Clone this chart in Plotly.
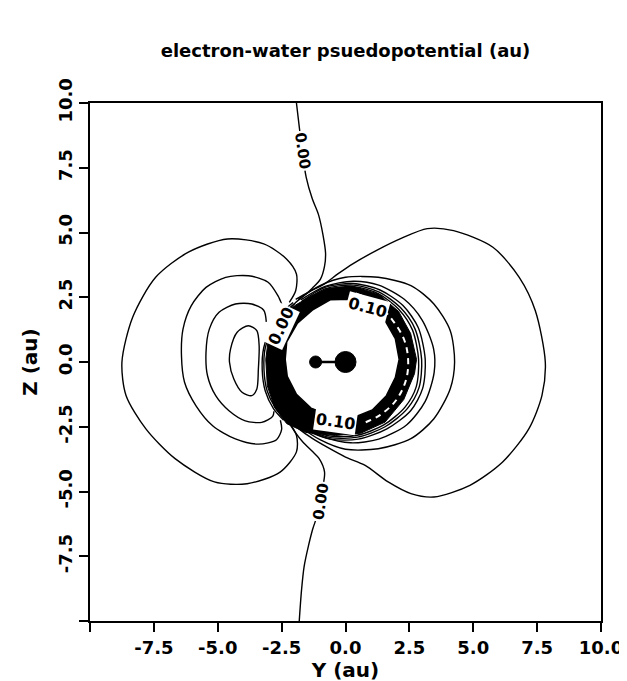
import plotly.graph_objects as go

# ---------------- data (axis units = au) ----------------
x_tick_vals = [-10.0, -7.5, -5.0, -2.5, 0.0, 2.5, 5.0, 7.5, 10.0]
x_tick_text = ["", "-7.5", "-5.0", "-2.5", "0.0", "2.5", "5.0", "7.5", "10.0"]
y_tick_vals = [-10.0, -7.5, -5.0, -2.5, 0.0, 2.5, 5.0, 7.5, 10.0]
y_tick_text = ["", "-7.5", "-5.0", "-2.5", "0.0", "2.5", "5.0", "7.5", "10.0"]

# 0.00 contour, upper branch
zero_top_y = [-1.92, -1.80, -1.70, -1.54, -1.30, -1.06, -0.88, -0.78, -0.82, -0.98, -1.30, -1.62, -1.95, -2.25, -2.55, -2.80]
zero_top_z = [10.0, 9.0, 8.15, 7.14, 6.30, 5.70, 4.90, 4.20, 3.70, 3.20, 2.85, 2.56, 2.30, 1.95, 1.40, 0.80]
# 0.00 contour, lower branch
zero_bot_y = [-2.60, -2.31, -1.98, -1.67, -1.30, -1.03, -0.82, -0.90, -1.10, -1.28, -1.45, -1.62, -1.72, -1.81]
zero_bot_z = [-1.60, -2.19, -2.70, -3.09, -3.45, -3.73, -4.25, -4.90, -5.90, -6.44, -7.10, -7.90, -8.80, -10.0]

# negative lobe on the hydrogen side (outer to inner)
lobe_a_y = [-2.20, -1.95, -1.92, -2.31, -3.20, -4.62, -6.15, -7.43, -8.33, -8.75, -8.59, -7.82, -6.67, -5.13, -3.85, -2.56, -1.92, -1.92, -2.30]
lobe_a_z = [2.30, 2.75, 3.40, 3.98, 4.56, 4.75, 4.24, 3.27, 1.73, 0.00, -1.29, -2.57, -3.73, -4.63, -4.70, -4.25, -3.47, -2.83, -2.20]
lobe_b_y = [-2.50, -2.64, -3.03, -3.80, -4.69, -5.46, -6.04, -6.36, -6.42, -6.30, -5.85, -5.20, -4.31, -3.41, -2.70, -2.50, -2.55]
lobe_b_z = [2.24, 2.55, 3.08, 3.33, 3.27, 2.88, 2.17, 1.27, 0.24, -0.78, -1.69, -2.46, -2.97, -3.17, -3.00, -2.60, -2.25]
lobe_c_y = [-3.10, -3.20, -3.67, -4.31, -4.95, -5.33, -5.46, -5.40, -5.08, -4.56, -3.92, -3.28, -2.85, -2.80]
lobe_c_z = [1.55, 2.00, 2.24, 2.24, 1.92, 1.27, 0.37, -0.53, -1.30, -1.88, -2.27, -2.33, -2.10, -1.90]
lobe_d_y = [-3.80, -4.24, -4.50, -4.54, -4.37, -4.05, -3.67, -3.47, -3.41, -3.38, -3.47, -3.80]
lobe_d_z = [1.40, 1.15, 0.50, -0.01, -0.66, -1.17, -1.30, -1.04, -0.27, 0.63, 1.21, 1.40]

# lines hugging the left side of the repulsive core
hug_1_y = [-2.05, -2.45, -2.88, -3.20, -3.26, -3.14, -2.82, -2.42]
hug_1_z = [2.30, 1.95, 1.35, 0.55, -0.30, -1.12, -1.80, -2.25]
hug_2_y = [-2.00, -2.40, -2.83, -3.14, -3.19, -3.07, -2.75, -2.36]
hug_2_z = [2.25, 1.90, 1.30, 0.55, -0.30, -1.10, -1.76, -2.20]

# positive contours on the oxygen side (outer to inner)
balloon_y = [-1.95, -1.45, -0.85, -0.30, 0.30, 1.20, 2.20, 3.20, 4.23, 5.77, 6.80, 7.43, 7.82, 7.69, 7.18, 6.15, 4.87, 3.46, 2.56, 1.67, 0.77, 0.00, -0.70, -1.30, -1.80, -2.15]
balloon_z = [2.42, 2.70, 3.00, 3.40, 3.80, 4.30, 4.78, 5.15, 5.07, 4.43, 3.27, 1.98, 0.00, -1.29, -2.57, -3.86, -4.76, -5.21, -5.08, -4.63, -3.99, -3.67, -3.30, -2.95, -2.60, -2.30]
ring_f_y = [-1.85, -1.00, 0.00, 1.28, 2.56, 3.46, 4.10, 4.27, 4.10, 3.46, 2.56, 1.28, 0.00, -1.00, -1.85]
ring_f_z = [2.42, 2.95, 3.27, 3.27, 2.95, 2.24, 1.21, 0.00, -1.03, -2.19, -2.96, -3.35, -3.37, -3.00, -2.45]
ring_g_y = [-1.75, -0.80, 0.30, 1.30, 2.30, 3.00, 3.45, 3.47, 3.12, 2.40, 1.30, 0.20, -0.90, -1.80]
ring_g_z = [2.40, 2.92, 3.12, 2.97, 2.42, 1.62, 0.50, -0.40, -1.52, -2.42, -2.98, -3.12, -2.88, -2.47]
ring_h_y = [-1.70, -0.80, 0.30, 1.35, 2.25, 2.85, 3.12, 3.02, 2.55, 1.62, 0.50, -0.60, -1.60]
ring_h_z = [2.35, 2.88, 3.03, 2.78, 2.18, 1.32, 0.10, -1.02, -1.88, -2.58, -2.98, -2.98, -2.62]
ring_i_y = [-1.65, -0.80, 0.30, 1.32, 2.15, 2.72, 2.98, 2.88, 2.42, 1.55, 0.47, -0.60, -1.55]
ring_i_z = [2.30, 2.82, 2.97, 2.70, 2.10, 1.28, 0.10, -0.98, -1.80, -2.50, -2.90, -2.92, -2.57]
ring_j_y = [-1.62, -0.80, 0.30, 1.28, 2.08, 2.62, 2.86, 2.77, 2.33, 1.50, 0.45, -0.60, -1.52]
ring_j_z = [2.26, 2.76, 2.91, 2.64, 2.04, 1.24, 0.10, -0.95, -1.74, -2.43, -2.83, -2.86, -2.52]

# dense (filled) core band: outer and inner edges
band_out_y = [2.78, 2.55, 2.08, 1.30, 0.30, -0.65, -1.35, -1.95, -2.55, -3.00, -3.12, -3.06, -2.78, -2.30, -1.55, -0.40, 0.60, 1.55, 2.28, 2.70, 2.78]
band_out_z = [0.10, 1.10, 1.95, 2.62, 2.92, 2.85, 2.55, 2.20, 1.75, 1.05, 0.10, -0.92, -1.75, -2.38, -2.72, -2.84, -2.75, -2.32, -1.45, -0.45, 0.10]
band_in_y = [2.10, 1.95, 1.55, 0.95, 0.20, -0.60, -1.30, -1.88, -2.30, -2.36, -2.28, -1.92, -1.35, -0.55, 0.30, 1.05, 1.60, 1.95, 2.10]
band_in_z = [0.10, 0.90, 1.60, 2.15, 2.42, 2.40, 2.00, 1.50, 0.78, 0.10, -0.55, -1.25, -1.78, -2.08, -2.15, -1.85, -1.30, -0.60, 0.10]
# white gaps running inside the dense band on the oxygen side
gap_y = [0.40, 1.15, 1.85, 2.30, 2.45, 2.38, 2.00, 1.35, 0.60]
gap_z = [2.65, 2.30, 1.60, 0.85, 0.10, -0.65, -1.45, -2.05, -2.40]

# water molecule (H and O positions)
atom_y = [-1.17, 0.0]
atom_z = [0.0, 0.0]
atom_size = [12, 21]

# contour labels
label_text = ["0.00", "0.00", "0.00", "0.10", "0.10"]
label_y = [-1.68, -2.54, -0.96, 0.88, -0.38]
label_z = [8.15, 1.39, -5.37, 2.12, -2.28]
label_angle = [82, -65, -82, 15, 8]
label_size = [15, 16, 15, 16, 16]

# ---------------- figure ----------------
fig = go.Figure()
LINE = dict(color="black", width=1.4)

fig.add_trace(go.Scatter(x=band_out_y, y=band_out_z, mode="lines", fill="toself",
                         fillcolor="black", line=dict(color="black", width=1)))
fig.add_trace(go.Scatter(x=band_in_y, y=band_in_z, mode="lines", fill="toself",
                         fillcolor="white", line=dict(color="black", width=1.5)))
fig.add_trace(go.Scatter(x=gap_y, y=gap_z, mode="lines",
                         line=dict(color="white", width=2, dash="6px,5px", shape="spline")))

for ys, zs in [(zero_top_y, zero_top_z), (zero_bot_y, zero_bot_z),
               (lobe_a_y, lobe_a_z), (lobe_b_y, lobe_b_z), (lobe_c_y, lobe_c_z), (lobe_d_y, lobe_d_z),
               (hug_1_y, hug_1_z), (hug_2_y, hug_2_z),
               (balloon_y, balloon_z), (ring_f_y, ring_f_z), (ring_g_y, ring_g_z),
               (ring_h_y, ring_h_z), (ring_i_y, ring_i_z), (ring_j_y, ring_j_z)]:
    fig.add_trace(go.Scatter(x=ys, y=zs, mode="lines", line=dict(shape="spline", smoothing=0.8, **LINE)))

fig.add_trace(go.Scatter(x=atom_y, y=atom_z, mode="lines",
                         line=dict(color="black", width=2.5)))
fig.add_trace(go.Scatter(x=atom_y, y=atom_z, mode="markers",
                         marker=dict(color="black", size=atom_size, opacity=1,
                                     line=dict(color="black", width=1))))

for t, ly, lz, ang, fs in zip(label_text, label_y, label_z, label_angle, label_size):
    fig.add_annotation(x=ly, y=lz, text=t, showarrow=False, textangle=ang,
                       bgcolor="white", borderpad=1,
                       font=dict(family="DejaVu Sans", size=fs, color="black", weight="bold"))

axis_common = dict(range=[-10, 10], showgrid=False, zeroline=False, showline=True,
                   linecolor="black", linewidth=2, mirror=True, ticks="outside",
                   ticklen=9, tickwidth=1.5, tickcolor="black",
                   tickfont=dict(family="DejaVu Sans", size=18, color="black", weight="bold"))

fig.update_layout(
    width=627, height=681,
    margin=dict(l=82, r=25, t=95, b=68),
    paper_bgcolor="white", plot_bgcolor="white",
    showlegend=False,
    title=dict(text="electron-water psuedopotential (au)", x=0.5, xref="paper", xanchor="center",
               y=0.938, yref="container", yanchor="middle",
               font=dict(family="DejaVu Sans", size=18, color="black", weight="bold")),
    xaxis=dict(tickvals=x_tick_vals, ticktext=x_tick_text,
               title=dict(text="Y (au)", standoff=4,
                          font=dict(family="DejaVu Sans", size=20, color="black", weight="bold")),
               **axis_common),
    yaxis=dict(tickvals=y_tick_vals, ticktext=y_tick_text, tickangle=-90,
               title=dict(text="Z (au)", standoff=12,
                          font=dict(family="DejaVu Sans", size=20, color="black", weight="bold")),
               **axis_common),
)

fig.write_html("out.html")
